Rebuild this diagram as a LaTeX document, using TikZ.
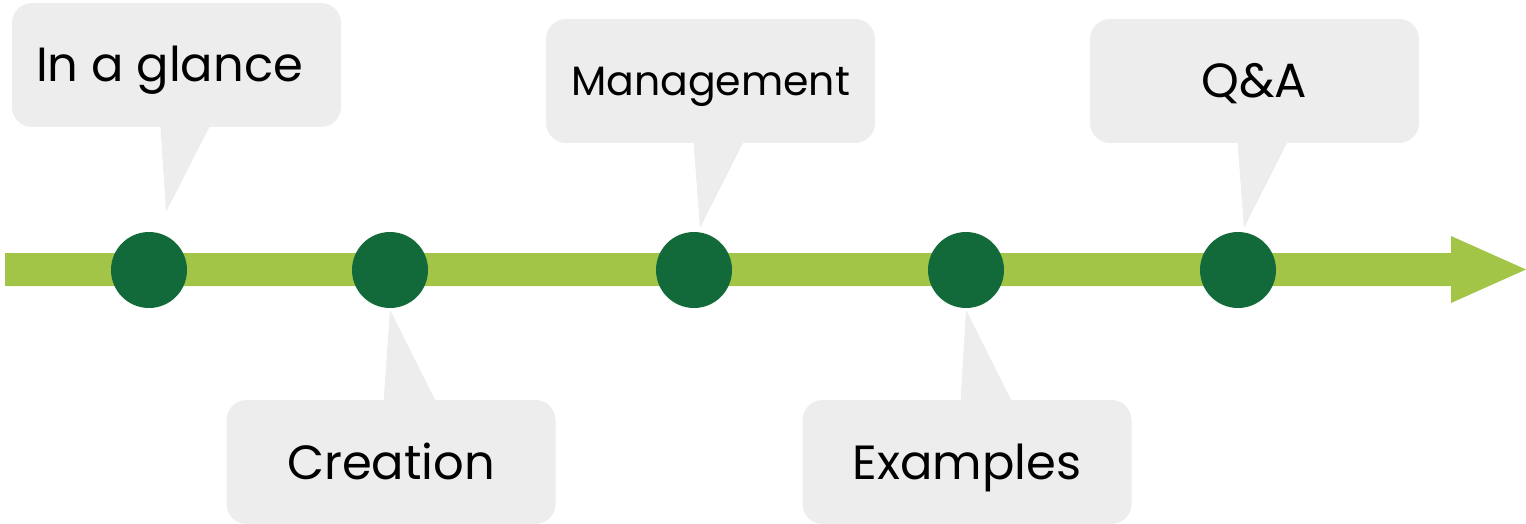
\documentclass[tikz,border=0pt]{standalone}
\usepackage{fontspec}
\setmainfont{Poppins}
\definecolor{barc}{HTML}{A2C548}
\definecolor{dotc}{HTML}{126A3B}
\definecolor{boxc}{HTML}{EDEDED}
\tikzset{
  callout/.style={rectangle, rounded corners=20pt, fill=boxc, inner sep=0pt,
    minimum width=329pt, minimum height=124pt, text height=34pt, text depth=0pt,
    font=\fontsize{48}{52}\selectfont},
  dot/.style={circle, fill=dotc, minimum size=76pt, inner sep=0pt},
  tail/.style={fill=boxc}
}
\begin{document}
\begin{tikzpicture}[x=1pt,y=-1pt]
\useasboundingbox (0,0) rectangle (1526,524);
% callouts
\node[callout] (c1) at (176.5,65) {In a glance\hspace*{14pt}};
\node[callout, font=\fontsize{41}{45}\selectfont, text height=29pt] (c2) at (710.5,81) {Management};
\node[callout] (c3) at (1254.5,81) {Q\&A};
\node[callout] (c4) at (391,462) {Creation};
\node[callout] (c5) at (967,462) {Examples};
% tails
\fill[tail] (160,120) -- (166,212) -- (213,120) -- cycle;
\fill[tail] (693,135) -- (700,228) -- (747,135) -- cycle;
\fill[tail] (1237,135) -- (1244,228) -- (1291,135) -- cycle;
\fill[tail] (383,410) -- (390,310) -- (440,410) -- cycle;
\fill[tail] (960,410) -- (966,310) -- (1016,410) -- cycle;
% bar with arrow
\fill[barc] (5,253) -- (1451,253) -- (1451,236) -- (1526,269.5) -- (1451,303) -- (1451,286) -- (5,286) -- cycle;
% dots
\node[dot] (d1) at (149,270) {};
\node[dot] (d2) at (390,270) {};
\node[dot] (d3) at (694,270) {};
\node[dot] (d4) at (966,270) {};
\node[dot] (d5) at (1238,270) {};
\end{tikzpicture}
\end{document}
